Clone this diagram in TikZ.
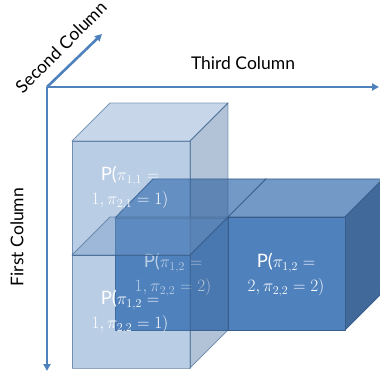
\documentclass[tikz,border=0pt]{standalone}
\usepackage{fontspec}
\setmainfont{Lato}
\usetikzlibrary{arrows.meta}
\definecolor{cfront}{HTML}{4F81BD}
\definecolor{ctop}{HTML}{7399C6}
\definecolor{cside}{HTML}{41699A}
\definecolor{cedge}{HTML}{385D8A}
\definecolor{caxis}{HTML}{4F81BD}
\tikzset{
  axis/.style={draw=caxis, line width=2.6pt, -{Triangle[length=7pt,width=7pt]}},
  axlabel/.style={font=\fontsize{17.5}{20}\selectfont, text=black, inner sep=0pt},
  front/.style={fill=cfront, draw=cedge, line width=0.9pt, line join=round},
  topf/.style={fill=ctop, draw=cedge, line width=0.9pt, line join=round},
  sidef/.style={fill=cside, draw=cedge, line width=0.9pt, line join=round},
  ghost/.style={fill opacity=0.4, draw opacity=0.55},
  celltext/.style={font=\fontsize{18.5}{24.5}\selectfont, text=white, align=center, inner sep=0pt},
}
\begin{document}
\begin{tikzpicture}[x=1pt,y=-1pt]
\useasboundingbox (0,0) rectangle (380,374);
\clip (0,0) rectangle (380,374);
% axes
\coordinate (O) at (47,87);
\coordinate (Xend) at (379,87);
\coordinate (Yend) at (47,371);
\coordinate (Zend) at (102,34);
\draw[axis] (O) -- (Xend);
\draw[axis] (O) -- (Yend);
\draw[axis] (O) -- (Zend);
\node[axlabel] (lthird) at (243,63) {Third Column};
\node[axlabel, rotate=45] (lsecond) at (61,47) {Second Column};
\node[axlabel, rotate=90] (lfirst) at (17,237) {First Column};
% cube C (behind)
\path[sidef] (228,218) -- (266,179) -- (266,292) -- (228,330) -- cycle;
\path[topf] (115,218) -- (153,179) -- (266,179) -- (228,218) -- cycle;
\path[front] (115,218) rectangle (228,330);
\node[celltext] (tC) at (173,275) {P($\pi_{1,2} =$\\$1, \pi_{2,2} = 2)$};
% cube D
\path[topf] (228,217) -- (266,179) -- (383,179) -- (345,217) -- cycle;
\path[sidef] (345,217) -- (383,179) -- (383,292) -- (345,330) -- cycle;
\path[front] (228,217) rectangle (345,330);
\node[celltext] (tD) at (286,275) {P($\pi_{1,2} =$\\$2, \pi_{2,2} = 2)$};
% light cube A
\path[front, ghost] (72,141) rectangle (190,255);
\path[topf, ghost] (72,141) -- (110,103) -- (228,103) -- (190,141) -- cycle;
\path[sidef, ghost] (190,141) -- (228,103) -- (228,217) -- (190,255) -- cycle;
% light cube B
\path[front, ghost] (72,255) rectangle (190,368);
\path[topf, ghost] (72,255) -- (110,217) -- (228,217) -- (190,255) -- cycle;
\path[sidef, ghost] (190,255) -- (228,217) -- (228,330) -- (190,368) -- cycle;
\node[celltext] (tA) at (130,188) {P($\pi_{1,1} =$\\$1, \pi_{2,1} = 1)$};
\node[celltext] (tB) at (130,312) {P($\pi_{1,2} =$\\$1, \pi_{2,2} = 1)$};
\end{tikzpicture}
\end{document}
